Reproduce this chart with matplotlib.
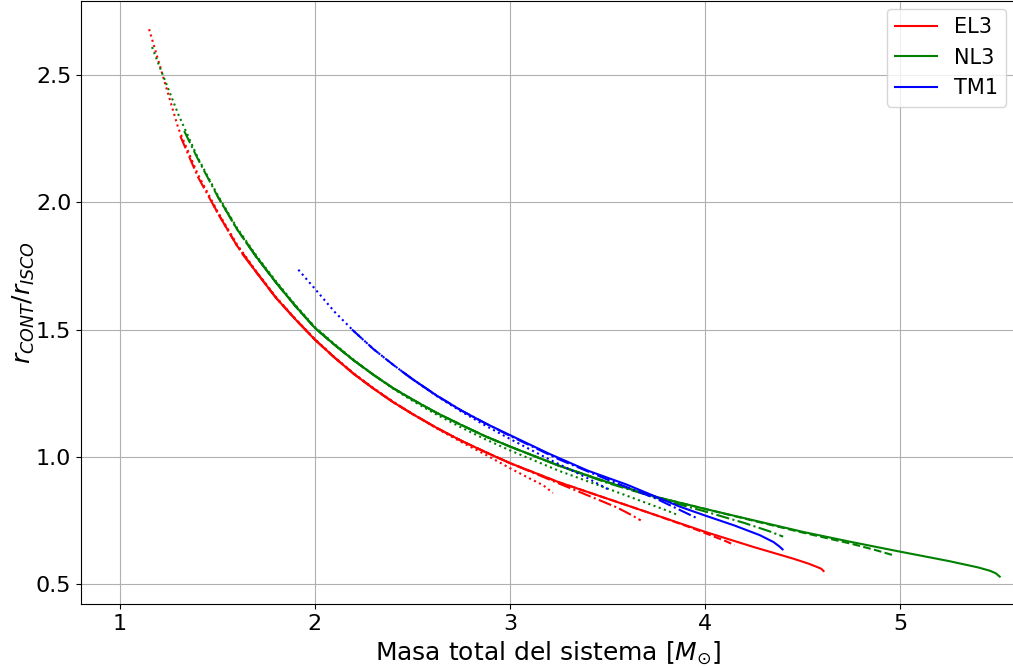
import matplotlib
matplotlib.use("Agg")
import matplotlib.pyplot as plt

# ---------------- data ----------------
# EL3 (red)
el3_dot_x = [1.15, 1.20, 1.25, 1.30, 1.40, 1.50, 1.60, 1.70, 1.80, 1.90, 2.00, 2.10, 2.20, 2.30, 2.40, 2.50,
             2.625, 2.75, 2.875, 3.00, 3.10, 3.17, 3.22]
el3_dot_y = [2.68, 2.55, 2.42, 2.29, 2.11, 1.965, 1.835, 1.728, 1.628, 1.542, 1.462, 1.392, 1.327, 1.27, 1.217,
             1.168, 1.111, 1.058, 1.008, 0.955, 0.915, 0.888, 0.858]
el3_dd_x = [1.31, 1.40, 1.50, 1.60, 1.70, 1.80, 1.90, 2.00, 2.10, 2.20, 2.30, 2.40, 2.50, 2.625, 2.75, 2.875,
            3.00, 3.25, 3.45, 3.55, 3.62, 3.67]
el3_dd_y = [2.26, 2.10, 1.96, 1.83, 1.725, 1.625, 1.54, 1.46, 1.39, 1.325, 1.268, 1.215, 1.168, 1.113, 1.063, 1.018,
            0.975, 0.895, 0.832, 0.80, 0.772, 0.75]
el3_da_x = [1.48, 1.50, 1.60, 1.70, 1.80, 1.90, 2.00, 2.10, 2.20, 2.30, 2.40, 2.50, 2.625, 2.75, 2.875, 3.00,
            3.25, 3.50, 3.75, 3.95, 4.05, 4.11, 4.15]
el3_da_y = [1.99, 1.96, 1.83, 1.725, 1.625, 1.54, 1.46, 1.39, 1.325, 1.268, 1.215, 1.168, 1.113, 1.063, 1.018, 0.975,
            0.90, 0.835, 0.77, 0.715, 0.685, 0.667, 0.653]
el3_so_x = [1.63, 1.70, 1.80, 1.90, 2.00, 2.10, 2.20, 2.30, 2.40, 2.50, 2.625, 2.75, 2.875, 3.00, 3.25, 3.50,
            3.75, 4.00, 4.25, 4.45, 4.53, 4.57, 4.595, 4.607]
el3_so_y = [1.795, 1.725, 1.625, 1.54, 1.46, 1.39, 1.325, 1.268, 1.215, 1.168, 1.113, 1.063, 1.018, 0.975, 0.90, 0.835,
            0.77, 0.705, 0.645, 0.60, 0.58, 0.568, 0.56, 0.551]

# NL3 (green)
nl3_dot_x = [1.165, 1.20, 1.30, 1.40, 1.50, 1.60, 1.70, 1.80, 1.90, 2.00, 2.10, 2.20, 2.30, 2.40, 2.50, 2.625,
             2.75, 2.875, 3.00, 3.25, 3.50, 3.70, 3.80, 3.86]
nl3_dot_y = [2.61, 2.54, 2.345, 2.175, 2.03, 1.90, 1.79, 1.69, 1.596, 1.51, 1.443, 1.38, 1.322, 1.268, 1.22, 1.165,
             1.115, 1.068, 1.025, 0.945, 0.875, 0.818, 0.79, 0.771]
nl3_dd_x = [1.33, 1.40, 1.50, 1.60, 1.70, 1.80, 1.90, 2.00, 2.10, 2.20, 2.30, 2.40, 2.50, 2.625, 2.75, 2.875,
            3.00, 3.25, 3.50, 3.80, 4.00, 4.20, 4.33, 4.40]
nl3_dd_y = [2.28, 2.17, 2.025, 1.895, 1.785, 1.685, 1.592, 1.506, 1.44, 1.378, 1.322, 1.27, 1.225, 1.172, 1.125, 1.08,
            1.04, 0.965, 0.897, 0.827, 0.785, 0.74, 0.707, 0.686]
nl3_da_x = [1.50, 1.60, 1.70, 1.80, 1.90, 2.00, 2.10, 2.20, 2.30, 2.40, 2.50, 2.625, 2.75, 2.875, 3.00, 3.25,
            3.50, 3.75, 4.00, 4.25, 4.50, 4.75, 4.87, 4.96]
nl3_da_y = [2.025, 1.895, 1.785, 1.685, 1.592, 1.506, 1.44, 1.378, 1.322, 1.27, 1.225, 1.172, 1.125, 1.08, 1.04, 0.965,
            0.90, 0.842, 0.795, 0.748, 0.702, 0.658, 0.634, 0.614]
nl3_so_x = [1.65, 1.70, 1.80, 1.90, 2.00, 2.10, 2.20, 2.30, 2.40, 2.50, 2.625, 2.75, 2.875, 3.00, 3.25, 3.50,
            3.75, 4.00, 4.25, 4.50, 4.75, 5.00, 5.25, 5.40, 5.46, 5.49, 5.51]
nl3_so_y = [1.84, 1.785, 1.685, 1.592, 1.506, 1.44, 1.378, 1.322, 1.27, 1.225, 1.172, 1.125, 1.08, 1.04, 0.965, 0.90,
            0.842, 0.795, 0.75, 0.705, 0.665, 0.627, 0.59, 0.565, 0.552, 0.542, 0.529]

# TM1 (blue)
tm1_dot_x = [1.915, 2.00, 2.10, 2.20, 2.30, 2.40, 2.50, 2.625, 2.75, 2.875, 3.00, 3.20, 3.40, 3.51]
tm1_dot_y = [1.735, 1.66, 1.57, 1.493, 1.423, 1.362, 1.305, 1.238, 1.178, 1.122, 1.07, 0.99, 0.915, 0.869]
tm1_dd_x = [2.19, 2.30, 2.40, 2.50, 2.625, 2.75, 2.875, 3.00, 3.25, 3.50, 3.75, 3.90, 3.96]
tm1_dd_y = [1.50, 1.423, 1.362, 1.305, 1.24, 1.182, 1.131, 1.082, 0.99, 0.91, 0.835, 0.78, 0.758]
tm1_so_x = [2.45, 2.50, 2.625, 2.75, 2.875, 3.00, 3.20, 3.40, 3.60, 3.87, 4.00, 4.15, 4.28, 4.35, 4.38, 4.397]
tm1_so_y = [1.333, 1.305, 1.24, 1.182, 1.131, 1.085, 1.012, 0.945, 0.89, 0.804, 0.769, 0.73, 0.692, 0.665, 0.648, 0.636]

model_labels = ["EL3", "NL3", "TM1"]
xlabel_text = r"Masa total del sistema [$M_{\odot}$]"
ylabel_text = r"$r_{CONT}/r_{ISCO}$"
xticks = [1, 2, 3, 4, 5]
yticks = [0.5, 1.0, 1.5, 2.0, 2.5]

# ---------------- figure ----------------
W, H = 1013, 668
fig = plt.figure(figsize=(W / 100, H / 100), dpi=100)
# axes reaches the right edge (reference is cropped there)
ax = fig.add_axes([81 / W, 64 / H, 934 / W, 603 / H])

lw = 1.5
series = [
    ("red", [(el3_dot_x, el3_dot_y, ":"), (el3_dd_x, el3_dd_y, "-."),
             (el3_da_x, el3_da_y, "--"), (el3_so_x, el3_so_y, "-")]),
    ("green", [(nl3_dot_x, nl3_dot_y, ":"), (nl3_dd_x, nl3_dd_y, "-."),
               (nl3_da_x, nl3_da_y, "--"), (nl3_so_x, nl3_so_y, "-")]),
    ("blue", [(tm1_dot_x, tm1_dot_y, ":"), (tm1_dd_x, tm1_dd_y, "-."),
              (tm1_so_x, tm1_so_y, "-")]),
]
handles = []
for (color, curves), lab in zip(series, model_labels):
    for cx, cy, ls in curves:
        line, = ax.plot(cx, cy, color=color, linestyle=ls, linewidth=lw)
        if ls == "-":
            handles.append(line)

ax.set_xlim(0.801, 0.801 + 934 / 195.1)
ax.set_ylim(0.4214, 2.7908)
ax.set_xticks(xticks)
ax.set_yticks(yticks)
ax.tick_params(labelsize=16)
ax.grid(True, color="#b0b0b0", linewidth=0.8)
ax.set_xlabel(xlabel_text, fontsize=18)
ax.set_ylabel(ylabel_text, fontsize=18, labelpad=-1)

fig.legend(handles=handles, labels=model_labels, loc="upper right",
           bbox_to_anchor=(1006 / W, 1 - 9 / H), bbox_transform=fig.transFigure,
           borderaxespad=0, fontsize=15)

fig.savefig("out.png", dpi=100)
